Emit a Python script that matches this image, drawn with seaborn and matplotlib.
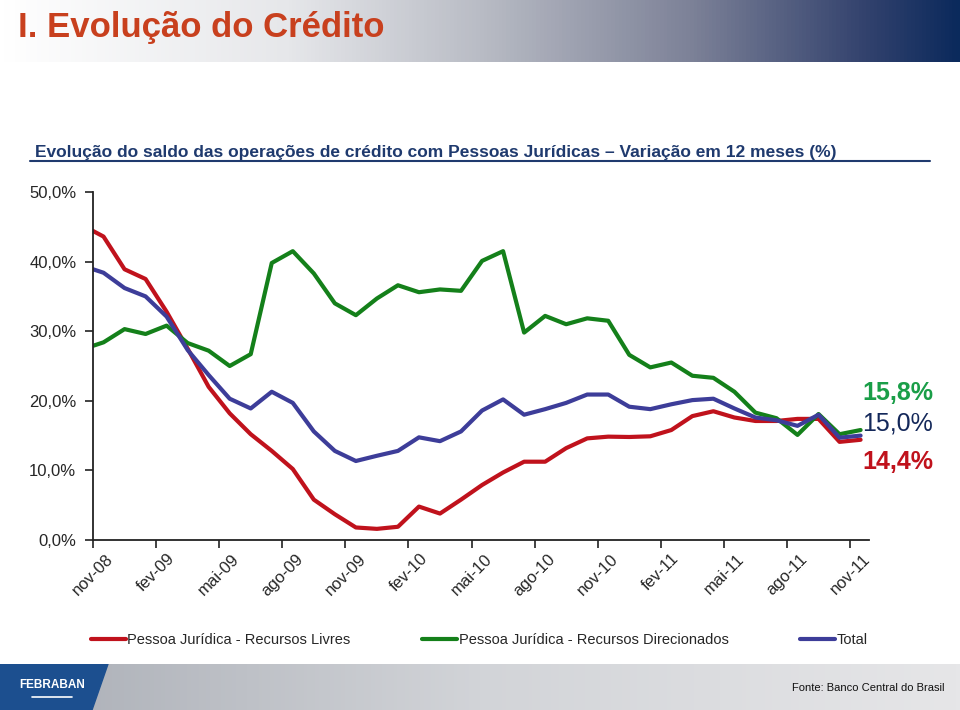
import numpy as np
import pandas as pd
import matplotlib
matplotlib.use("Agg")
import matplotlib.pyplot as plt
from matplotlib.colors import LinearSegmentedColormap
from matplotlib.patches import Polygon
import seaborn as sns

# Configuração
sns.set_style("ticks")
plt.rcParams["font.family"] = ["Liberation Sans", "DejaVu Sans"]

# Dados (variação em 12 meses, %) - posição em meses a partir de nov-08
meses = [0, 0.5, 1.5, 2.5, 3.5, 4.5, 5.5, 6.5, 7.5, 8.5, 9.5, 10.5, 11.5,
         12.5, 13.5, 14.5, 15.5, 16.5, 17.5, 18.5, 19.5, 20.5, 21.5, 22.5,
         23.5, 24.5, 25.5, 26.5, 27.5, 28.5, 29.5, 30.5, 31.5, 32.5, 33.5,
         34.5, 35.5, 36.5]

livres = [44.4, 43.6, 38.9, 37.5, 32.8, 27.5, 22.0, 18.2, 15.2, 12.8,
          10.2, 5.8, 3.7, 1.8, 1.6, 1.9, 4.8, 3.8, 5.8, 7.9,
          9.7, 11.25, 11.25, 13.2, 14.6, 14.85, 14.8, 14.9, 15.8, 17.8,
          18.5, 17.6, 17.1, 17.1, 17.4, 17.4, 14.1, 14.4]

direcionados = [27.9, 28.4, 30.3, 29.6, 30.8, 28.3, 27.2, 25.0, 26.7, 39.8,
                41.5, 38.3, 34.0, 32.3, 34.7, 36.6, 35.6, 36.0, 35.8, 40.1,
                41.5, 29.8, 32.2, 31.0, 31.85, 31.5, 26.6, 24.8, 25.5, 23.6,
                23.3, 21.3, 18.3, 17.5, 15.1, 18.1, 15.2, 15.8]

total = [38.9, 38.4, 36.2, 35.0, 32.1, 27.3, 23.7, 20.3, 18.9, 21.3,
         19.7, 15.6, 12.8, 11.35, 12.1, 12.8, 14.75, 14.2, 15.6, 18.6,
         20.2, 18.0, 18.8, 19.7, 20.9, 20.9, 19.15, 18.8, 19.5, 20.1,
         20.3, 18.9, 17.6, 17.2, 16.4, 18.0, 14.7, 15.0]

series = ["Pessoa Jurídica - Recursos Livres",
          "Pessoa Jurídica - Recursos Direcionados",
          "Total"]
cores = ["#c0121c", "#14801a", "#3d3d99"]

tick_pos = [0, 3, 6, 9, 12, 15, 18, 21, 24, 27, 30, 33, 36]
tick_labels = ["nov-08", "fev-09", "mai-09", "ago-09", "nov-09", "fev-10",
               "mai-10", "ago-10", "nov-10", "fev-11", "mai-11", "ago-11",
               "nov-11"]

ultimos = ["15,8%", "15,0%", "14,4%"]

df = pd.DataFrame({
    "mes": meses * 3,
    "valor": livres + direcionados + total,
    "serie": [series[0]] * len(meses) + [series[1]] * len(meses) + [series[2]] * len(meses),
})

W, H = 960, 710
fig = plt.figure(figsize=(9.6, 7.1), dpi=100)
fig.patch.set_facecolor("white")

# Faixa do título (gradiente)
ax_h = fig.add_axes([0, 1 - 62 / H, 1, 62 / H])
cmap_h = LinearSegmentedColormap.from_list("hdr", [
    (0.0, "#ffffff"), (0.3, "#e6e7ea"), (0.5, "#b9bcc5"),
    (0.72, "#7d8298"), (0.9, "#34436e"), (1.0, "#0b2a5c")])
ax_h.imshow(np.linspace(0, 1, 256).reshape(1, -1), aspect="auto", cmap=cmap_h,
            extent=[0, 1, 0, 1])
ax_h.set_axis_off()
fig.text(18 / W, 1 - 28 / H, "I. Evolução do Crédito", color="#c8401e",
         fontsize=25, fontweight="bold", va="center", ha="left")

# Subtítulo
fig.text(35 / W, 1 - 152 / H,
         "Evolução do saldo das operações de crédito com Pessoas Jurídicas – Variação em 12 meses (%)",
         color="#1f3a6e", fontsize=12.5, fontweight="bold", va="center", ha="left")
fig.add_artist(plt.Line2D([30 / W, 930 / W], [1 - 161 / H, 1 - 161 / H],
                          color="#1f3a6e", lw=1.5))

# Gráfico principal
ax = fig.add_axes([93 / W, 1 - 540 / H, 776 / W, 348 / H])
sns.lineplot(data=df, x="mes", y="valor", hue="serie", hue_order=series,
             palette=dict(zip(series, cores)), linewidth=3, legend=False, ax=ax)
ax.set_xlim(0, 36.9)
ax.set_ylim(0, 50)
ax.set_yticks([0, 10, 20, 30, 40, 50])
ax.set_yticklabels(["0,0%", "10,0%", "20,0%", "30,0%", "40,0%", "50,0%"], fontsize=12)
ax.set_xticks(tick_pos)
ax.set_xticklabels(tick_labels, rotation=45, ha="center", fontsize=12)
ax.set_xlabel("")
ax.set_ylabel("")
sns.despine(ax=ax)
for s in ["left", "bottom"]:
    ax.spines[s].set_linewidth(1.3)
    ax.spines[s].set_color("#222222")
ax.tick_params(axis="both", length=6, width=1.2, color="#222222", pad=6)
ax.tick_params(axis="x", pad=2)

# Valores finais
fig.text(862 / W, 1 - 393 / H, ultimos[0], color="#1a9e48", fontsize=18,
         fontweight="bold", va="center", ha="left")
fig.text(862 / W, 1 - 423 / H, ultimos[1], color="#14285a", fontsize=18,
         va="center", ha="left")
fig.text(862 / W, 1 - 462 / H, ultimos[2], color="#c0121c", fontsize=18,
         fontweight="bold", va="center", ha="left")

# Legenda
handles = [plt.Line2D([], [], color=c, lw=3) for c in cores]
fig.legend(handles, series, loc="center left", ncol=3, frameon=False,
           bbox_to_anchor=(91 / W, 1 - 640 / H), fontsize=10.5,
           handlelength=2.4, handletextpad=0.1, columnspacing=4.9,
           borderpad=0, borderaxespad=0)

# Rodapé
ax_f = fig.add_axes([0, 0, 1, 46 / H])
cmap_f = LinearSegmentedColormap.from_list("ftr", ["#a9adb5", "#d2d4d8", "#e6e6e8"])
ax_f.imshow(np.linspace(0, 1, 256).reshape(1, -1), aspect="auto", cmap=cmap_f,
            extent=[0, 1, 0, 1])
ax_f.add_patch(Polygon([[0, 0], [92 / W, 0], [108 / W, 1], [0, 1]],
                       closed=True, color="#1c4f8f"))
ax_f.set_xlim(0, 1)
ax_f.set_ylim(0, 1)
ax_f.set_axis_off()
ax_f.text(52 / W, 0.55, "FEBRABAN", color="white", fontsize=8.5,
          fontweight="bold", ha="center", va="center")
ax_f.plot([32 / W, 72 / W], [0.28, 0.28], color="white", lw=1.2)
ax_f.text(945 / W, 0.47, "Fonte: Banco Central do Brasil", color="#111111",
          fontsize=8, ha="right", va="center")

fig.savefig("out.png", dpi=100)
